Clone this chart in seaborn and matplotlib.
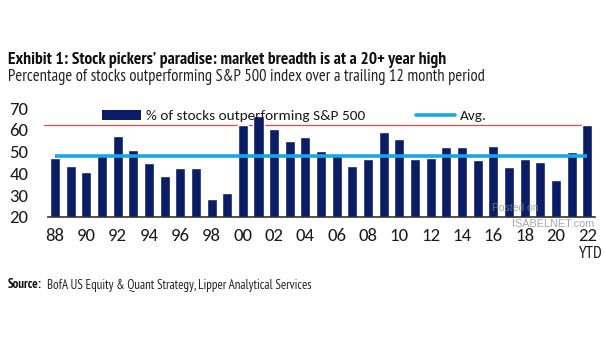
import matplotlib
matplotlib.use("Agg")
import matplotlib.pyplot as plt
from matplotlib import font_manager
from matplotlib.patches import Patch
from matplotlib.lines import Line2D
import matplotlib.transforms as mtransforms
import seaborn as sns
import pandas as pd

# Share of stocks beating the S&P 500 over a trailing 12 months, by year
years = list(range(1988, 2023))
pct_outperforming = [
    47.2, 43.5, 40.5, 49.1, 57.4, 50.8, 44.8, 38.8, 42.3, 42.3,
    28.0, 30.8, 62.5, 66.5, 60.5, 55.1, 56.8, 50.2, 49.1, 43.5,
    46.6, 59.2, 55.7, 46.6, 47.2, 52.0, 52.0, 46.0, 52.6, 43.1,
    46.6, 45.4, 36.9, 49.8, 62.4,
]
tick_labels = [f"{y % 100:02d}" for y in years]

title = "Exhibit 1: Stock pickers\u2019 paradise: market breadth is at a 20+ year high"
subtitle = "Percentage of stocks outperforming S&P 500 index over a trailing 12 month period"
bar_label = "% of stocks outperforming S&P 500"
avg_label = "Avg."
source_head = "Source:"
source_body = "BofA US Equity & Quant Strategy, Lipper Analytical Services"

NAVY = "#0b1d64"
AVG_BLUE = "#19a6e6"
RED = "#e8494d"
INK = "#1a1a1a"

sns.set_theme(style="white")
installed = {f.name for f in font_manager.fontManager.ttflist}


def pick(*cands):
    for c in cands:
        if c in installed:
            return [c, "DejaVu Sans"]
    return ["DejaVu Sans"]


NARROW = pick("PT Sans Narrow", "Archivo Narrow", "Roboto Condensed")
BODY = pick("Carlito", "Liberation Sans")
plt.rcParams["font.family"] = BODY

df = pd.DataFrame({"year": tick_labels, "pct": pct_outperforming})

fig = plt.figure(figsize=(6.05, 3.41), dpi=100)
ax = fig.add_axes([0.0793, 0.3645, 0.9042, 0.318])

sns.barplot(data=df, x="year", y="pct", order=tick_labels, color=NAVY,
            saturation=1, width=0.64, ax=ax, zorder=2)

# average over full calendar years (YTD excluded)
full_years = pct_outperforming[:-1]
avg = sum(full_years) / len(full_years)
n = len(years)
ax.plot([0, n - 1], [avg, avg], color=AVG_BLUE, lw=2.6, zorder=3,
        solid_capstyle="butt")
# reference at the latest reading
latest = pct_outperforming[-1]
ax.plot([-0.72, n - 1.2], [latest, latest], color=RED, lw=0.9, zorder=1,
        clip_on=False)

ax.set_ylim(20, 70)
ax.set_xlim(-0.45, n - 0.5)
ax.set_yticks([20, 30, 40, 50, 60, 70])
ax.set_xticks(range(0, n, 2))
ax.set_xticklabels(tick_labels[::2])
ax.set_xlabel("")
ax.set_ylabel("")
ax.tick_params(axis="both", length=0, labelsize=13.5, colors=INK)
ax.tick_params(axis="x", pad=8)
ax.tick_params(axis="y", pad=14)
for s in ["top", "right", "left"]:
    ax.spines[s].set_visible(False)
ax.spines["bottom"].set_color("#333333")
ax.spines["bottom"].set_linewidth(1.2)
ax.spines["bottom"].set_zorder(4)

ax.text(n - 1 + 0.25, 1 - 254 / 341, "YTD",
        transform=mtransforms.blended_transform_factory(ax.transData, fig.transFigure),
        ha="center", va="center", fontsize=12, color=INK, family=NARROW)

handles = [Patch(facecolor=NAVY, edgecolor="none"),
           Line2D([0], [0], color=AVG_BLUE, lw=2.6)]
leg = ax.legend(handles, [bar_label, avg_label], ncol=2, frameon=False,
                loc="center left", bbox_to_anchor=(0.087, 0.93),
                fontsize=11, handlelength=2.55, handleheight=0.65,
                handletextpad=0.35, columnspacing=3.3, borderaxespad=0)
for t in leg.get_texts():
    t.set_color(INK)

fig.text(0.013, 1 - 60 / 341, title, fontsize=12.6, fontweight="bold",
         ha="left", va="center", color="#111111", family=NARROW)
fig.text(0.013, 1 - 77 / 341, subtitle, fontsize=11.9, ha="left",
         va="center", color="#222222", family=NARROW)
head = fig.text(0.013, 1 - 285 / 341, source_head, fontsize=9.3,
                fontweight="bold", ha="left", va="center", color="#111111",
                family=NARROW)
fig.canvas.draw()
bb = head.get_window_extent()
fig.text((bb.x1 + 5) / fig.bbox.width, 1 - 285 / 341, source_body,
         fontsize=9.3, ha="left", va="center", color="#222222", family=NARROW)

fig.text(492 / 605, 1 - 208 / 341, "Posted on", fontsize=7.5, color="#8a8a8a",
         alpha=0.75, ha="left", va="center", family=pick("Liberation Sans"))
fig.text(512 / 605, 1 - 224 / 341, "ISABELNET.com", fontsize=7.8,
         color="#8a8a8a", alpha=0.75, ha="left", va="center",
         family=pick("Liberation Sans"))

fig.savefig("out.png", dpi=100)
